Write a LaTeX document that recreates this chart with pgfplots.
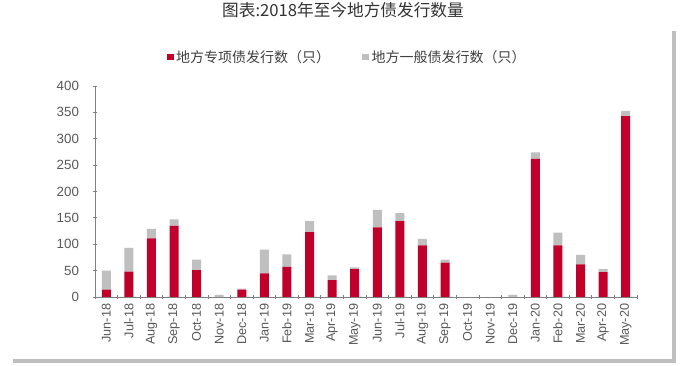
\documentclass[border=0pt]{standalone}
\usepackage{pgfplots}
\pgfplotsset{compat=1.18}
\usepackage{fontspec}
\setmainfont{Liberation Sans}
\newfontfamily\cjk{Noto Sans CJK SC}
\definecolor{bred}{RGB}{192,0,42}
\definecolor{bgrey}{RGB}{191,191,191}
\definecolor{txt}{RGB}{89,89,89}
\begin{document}
\begin{tikzpicture}[x=0.75pt,y=0.75pt]
\path[use as bounding box] (0,0) rectangle (683,366);
\fill[white] (0,0) rectangle (683,366);
\fill[gray!50] (13,3) rectangle (676,335);
\fill[white] (10,7) rectangle (672,338);
\node[font=\cjk\fontsize{12.5pt}{14pt}\selectfont, text=black!80] at (343,356) {图表:2018年至今地方债发行数量};
\begin{axis}[
  at={(71.25pt,51.75pt)}, anchor=south west,
  scale only axis, width=406.5pt, height=158.25pt,
  ybar stacked, bar width=6.75pt,
  xmin=-0.5, xmax=23.5, ymin=0, ymax=400,
  ytick={0,50,...,400},
  xtick={0,...,23},
  xticklabels={Jun-18,Jul-18,Aug-18,Sep-18,Oct-18,Nov-18,Dec-18,Jan-19,Feb-19,Mar-19,Apr-19,May-19,Jun-19,Jul-19,Aug-19,Sep-19,Oct-19,Nov-19,Dec-19,Jan-20,Feb-20,Mar-20,Apr-20,May-20},
  minor xtick={-0.5,0.5,...,23.5},
  major x tick style={draw=none},
  minor tick length=3pt,
  major tick length=3pt,
  tick align=outside,
  tick style={draw=gray, line width=0.6pt},
  axis lines=left,
  axis line style={-, draw=gray, line width=0.6pt},
  x tick label style={rotate=90, anchor=east, font=\fontsize{9.5pt}{10pt}\selectfont, text=txt},
  y tick label style={font=\fontsize{10pt}{11pt}\selectfont, text=txt, xshift=-7pt},
  yticklabel={\pgfmathprintnumber[assume math mode=true]{\tick}},
  legend columns=2,
  legend style={at={(0.466,1.137)}, anchor=center, draw=none, fill=none,
    font=\cjk\fontsize{10.5pt}{12pt}\selectfont, text=black!75,
    /tikz/every even column/.append style={column sep=22pt}},
  legend image code/.code={\fill[#1] (0pt,-2.5pt) rectangle (5pt,2.5pt);},
]
\addplot[fill=bred, draw=none] coordinates {
(0,14) (1,48) (2,111) (3,135) (4,51) (5,0) (6,14) (7,45) (8,57) (9,123) (10,32) (11,53)
(12,132) (13,144) (14,98) (15,65) (16,0) (17,0) (18,0) (19,262) (20,98) (21,62) (22,47) (23,343)};
\addlegendentry{地方专项债发行数（只）}
\addplot[fill=bgrey, draw=none] coordinates {
(0,36) (1,45) (2,18) (3,12) (4,20) (5,4) (6,2) (7,45) (8,24) (9,21) (10,9) (11,3)
(12,33) (13,15) (14,12) (15,6) (16,0) (17,0) (18,4) (19,12) (20,24) (21,18) (22,6) (23,10)};
\addlegendentry{地方一般债发行数（只）}
\end{axis}
\end{tikzpicture}
\end{document}
